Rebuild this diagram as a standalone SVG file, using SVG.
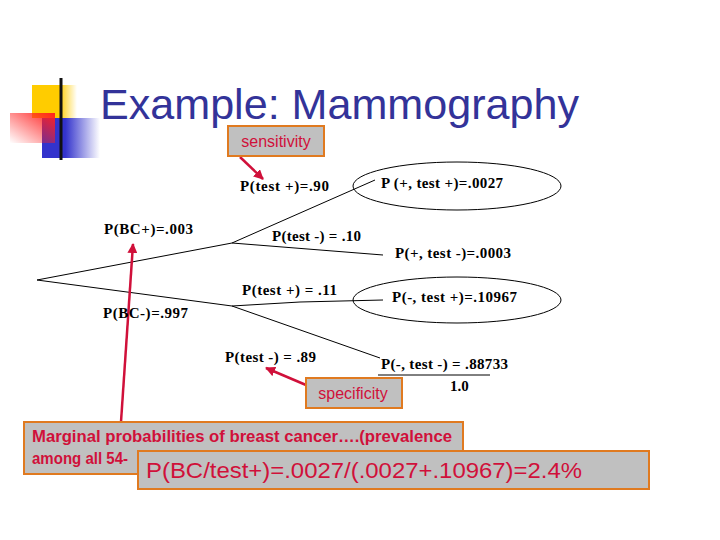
<svg xmlns="http://www.w3.org/2000/svg" width="720" height="540" viewBox="0 0 720 540">
<defs>
<linearGradient id="hl" x1="0" x2="1" y1="0" y2="0"><stop offset="0" stop-color="#222"/><stop offset="0.6" stop-color="#888"/><stop offset="1" stop-color="#ddd"/></linearGradient>
<linearGradient id="bl" x1="0" x2="1"><stop offset="0.4" stop-color="#3333cc"/><stop offset="1" stop-color="#3333cc" stop-opacity="0"/></linearGradient>
<linearGradient id="yl" x1="0" x2="1"><stop offset="0.6" stop-color="#ffcc00"/><stop offset="1" stop-color="#ffcc00" stop-opacity="0"/></linearGradient>
<linearGradient id="rd" x1="1" x2="0" y1="0" y2="1"><stop offset="0" stop-color="#ff2020"/><stop offset="1" stop-color="#ff2020" stop-opacity="0"/></linearGradient>
<marker id="ah" viewBox="0 0 10 10" refX="9" refY="5" markerWidth="4" markerHeight="4" orient="auto"><path d="M0,0L10,5L0,10z" fill="#d0103a"/></marker>
<style>
.t{font-family:"Liberation Serif",serif;font-size:15px;font-weight:bold;fill:#000}
.l{stroke:#000;stroke-width:1;fill:none}
.box{fill:#c0c0c0;stroke:#e07a20;stroke-width:2}
.r{font-family:"Liberation Sans",Arial,sans-serif;fill:#d0103a}
.ar{stroke:#d0103a;stroke-width:2.5;fill:none;marker-end:url(#ah)}
</style>
</defs>
<rect width="720" height="540" fill="#fff"/>
<g id="logo">
<rect x="32" y="85" width="45" height="33" fill="url(#yl)"/>
<rect x="42" y="118" width="58" height="40" fill="url(#bl)"/>
<rect x="10" y="113" width="45" height="30" fill="url(#rd)"/>
<line x1="34" y1="141" x2="700" y2="141" stroke="url(#hl)" stroke-width="3"/>
<line x1="61" y1="78" x2="61" y2="160" stroke="#111" stroke-width="3"/>
</g>
<text x="100" y="119" font-family="'Liberation Sans',Arial,sans-serif" font-size="42" fill="#333399" textLength="479" lengthAdjust="spacingAndGlyphs">Example: Mammography</text>
<g id="connectors">
<polyline class="l" points="232,243 37,280 232,306"/>
<line class="l" x1="232" y1="243" x2="375" y2="180"/>
<line class="l" x1="232" y1="243" x2="383" y2="255"/>
<polyline class="l" points="232,306 300,302 383,300"/>
<line class="l" x1="232" y1="306" x2="380" y2="358"/>
<line class="l" x1="378" y1="375" x2="490" y2="375"/>
<ellipse class="l" cx="457" cy="186" rx="104" ry="24" stroke-width="2"/>
<ellipse class="l" cx="457" cy="300" rx="104" ry="23" stroke-width="2"/>
<line class="ar" x1="240" y1="157" x2="263" y2="179"/>
<line class="ar" x1="306" y1="385" x2="266" y2="368"/>
<line class="ar" x1="121" y1="422" x2="133" y2="244"/>
</g>
<g id="labels">
<text class="t" x="240" y="191" textLength="89">P(test +)=.90</text>
<text class="t" x="381" y="188" textLength="122">P (+, test +)=.0027</text>
<text class="t" x="104" y="234" textLength="89">P(BC+)=.003</text>
<text class="t" x="272" y="241" textLength="89">P(test -) = .10</text>
<text class="t" x="395" y="258" textLength="116">P(+, test -)=.0003</text>
<text class="t" x="242" y="295" textLength="95">P(test +) = .11</text>
<text class="t" x="392" y="302" textLength="125">P(-, test +)=.10967</text>
<text class="t" x="103" y="318" textLength="85">P(BC-)=.997</text>
<text class="t" x="225" y="362" textLength="91">P(test -) = .89</text>
<text class="t" x="381" y="369" textLength="127">P(-, test -) = .88733</text>
<text class="t" x="450" y="391">1.0</text>
</g>
<g id="sensitivity"><rect class="box" x="228" y="126" width="96" height="30"/><text class="r" x="276" y="147" font-size="16" text-anchor="middle">sensitivity</text></g>
<g id="specificity"><rect class="box" x="306" y="378" width="96" height="30"/><text class="r" x="353" y="399" font-size="16" text-anchor="middle">specificity</text></g>
<g id="marginal"><rect class="box" x="24" y="422" width="439" height="52"/>
<text class="r" x="32" y="442" font-size="16" font-weight="bold" textLength="420" lengthAdjust="spacingAndGlyphs">Marginal probabilities of breast cancer….(prevalence</text>
<text class="r" x="32" y="464" font-size="16" font-weight="bold" textLength="96" lengthAdjust="spacingAndGlyphs">among all 54-</text></g>
<g id="formula"><rect class="box" x="138" y="451" width="511" height="38"/>
<text class="r" x="146" y="478" font-size="22" textLength="436" lengthAdjust="spacingAndGlyphs">P(BC/test+)=.0027/(.0027+.10967)=2.4%</text></g>
</svg>
